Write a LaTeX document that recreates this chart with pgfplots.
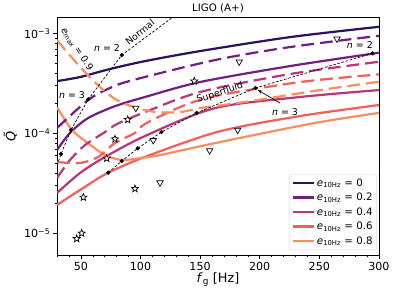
\documentclass[border=0pt]{standalone}
\usepackage{fontspec}
\setmainfont{DejaVu Sans}
\usepackage{pgfplots}
\pgfplotsset{compat=1.18}
\usetikzlibrary{arrows.meta}

\definecolor{c0}{RGB}{44,17,95}
\definecolor{c2}{RGB}{114,31,129}
\definecolor{c4}{RGB}{183,55,121}
\definecolor{c6}{RGB}{241,96,93}
\definecolor{c8}{RGB}{252,141,96}

\pgfdeclareplotmark{ostar}{%
  \pgfpathmoveto{\pgfqpointpolar{90}{\pgfplotmarksize}}%
  \pgfpathlineto{\pgfqpointpolar{126}{0.42\pgfplotmarksize}}%
  \pgfpathlineto{\pgfqpointpolar{162}{\pgfplotmarksize}}%
  \pgfpathlineto{\pgfqpointpolar{198}{0.42\pgfplotmarksize}}%
  \pgfpathlineto{\pgfqpointpolar{234}{\pgfplotmarksize}}%
  \pgfpathlineto{\pgfqpointpolar{270}{0.42\pgfplotmarksize}}%
  \pgfpathlineto{\pgfqpointpolar{306}{\pgfplotmarksize}}%
  \pgfpathlineto{\pgfqpointpolar{342}{0.42\pgfplotmarksize}}%
  \pgfpathlineto{\pgfqpointpolar{18}{\pgfplotmarksize}}%
  \pgfpathlineto{\pgfqpointpolar{54}{0.42\pgfplotmarksize}}%
  \pgfpathclose
  \pgfusepathqfillstroke
}

\begin{document}
\begin{tikzpicture}
\useasboundingbox (-66.7pt,-48pt) rectangle (394.3pt,298.3pt);
\begin{axis}[
  at={(0pt,0pt)}, anchor=south west,
  scale only axis, width=376.7pt, height=278.1pt,
  clip mode=individual,
  ymode=log, xmin=30, xmax=300, ymin=6.07e-6, ymax=1.45e-3,
  xtick={50,100,...,300}, minor xtick={30,40,...,300},
  ytick={1e-5,1e-4,1e-3},
  yticklabels={{10\textsuperscript{−5}},{10\textsuperscript{−4}},{10\textsuperscript{−3}}},
  tick align=outside, tick pos=left,
  major tick length=4.5pt, minor tick length=2.6pt,
  every tick/.style={black, line width=0.8pt},
  minor tick style={line width=0.6pt},
  axis line style={line width=0.8pt},
  ticklabel style={font=\fontsize{13}{15}\selectfont},
  /pgf/number format/assume math mode=true,
  xlabel={\textit{f}\textsubscript{g} [Hz]},
  ylabel={\textit{\~Q}},
  label style={font=\fontsize{15}{18}\selectfont},
  xlabel style={at={(axis description cs:0.5,-0.104)}, anchor=center},
  ylabel style={at={(axis description cs:-0.145,0.5)}, anchor=center},
  legend style={at={(axis description cs:0.994,0.021)}, anchor=south east,
    font=\fontsize{12}{14}\selectfont, draw=black!20, rounded corners=2pt,
    fill=white, fill opacity=0.8, text opacity=1, row sep=2.6pt, inner sep=3pt},
  legend cell align=left,
  legend image code/.code={\draw[#1, line width=2.6pt] (0pt,0pt) -- (25pt,0pt);},
]
% solid curves
\addplot[c0, no marks, smooth, tension=0.5, line width=2.6pt] coordinates {(30,3.33e-4) (49.3,3.66e-4) (74.4,4.40e-4) (103.8,5.28e-4) (149.9,6.65e-4) (225.4,9.18e-4) (300,1.164e-3)};
\addlegendentry{\textit{e}\textsubscript{10Hz} = 0}
\addplot[c2, no marks, smooth, tension=0.5, line width=2.6pt] coordinates {(30,6.81e-5) (40.9,1.01e-4) (56,1.42e-4) (78.6,1.87e-4) (103.8,2.31e-4) (149.9,3.26e-4) (225.4,4.71e-4) (300,6.40e-4)};
\addlegendentry{\textit{e}\textsubscript{10Hz} = 0.2}
\addplot[c4, no marks, smooth, tension=0.5, line width=2.6pt] coordinates {(30,2.53e-5) (49.3,4.01e-5) (70.2,5.79e-5) (103.8,9.40e-5) (162.5,1.79e-4) (233.8,2.31e-4) (300,2.71e-4)};
\addlegendentry{\textit{e}\textsubscript{10Hz} = 0.4}
\addplot[c6, no marks, smooth, tension=0.5, line width=2.6pt] coordinates {(30,1.92e-5) (49.3,2.71e-5) (73,4.04e-5) (108,6.07e-5) (166.7,1.05e-4) (233.8,1.49e-4) (300,1.92e-4)};
\addlegendentry{\textit{e}\textsubscript{10Hz} = 0.6}
\addplot[c8, no marks, smooth, tension=0.5, line width=2.6pt] coordinates {(30,1.83e-4) (42.6,1.08e-4) (56,8.0e-5) (70.2,6.07e-5) (84.5,5.41e-5) (99.6,5.66e-5) (116.4,6.07e-5) (166.7,8.18e-5) (246.3,1.27e-4) (300,1.60e-4)};
\addlegendentry{\textit{e}\textsubscript{10Hz} = 0.8}
% dashed curves
\addplot[c2, no marks, smooth, tension=0.5, line width=2.6pt, dash pattern=on 15pt off 7pt, forget plot] coordinates {(30,1.13e-4) (56,2.15e-4) (74.4,2.84e-4) (93.7,3.41e-4) (162.5,5.41e-4) (225.4,7.30e-4) (300,9.46e-4)};
\addplot[c4, no marks, smooth, tension=0.5, line width=2.6pt, dash pattern=on 15pt off 7pt, forget plot] coordinates {(30,3.57e-5) (40.9,5.41e-5) (53.5,7.64e-5) (70.2,1.03e-4) (80.3,1.24e-4) (103.8,1.63e-4) (149.9,2.59e-4) (225.4,3.92e-4) (300,5.20e-4)};
\addplot[c6, no marks, smooth, tension=0.5, line width=2.6pt, dash pattern=on 15pt off 7pt, forget plot] coordinates {(30,5.16e-5) (49.3,5.05e-5) (64.4,5.79e-5) (78.6,8.0e-5) (95.4,1.01e-4) (103.8,1.24e-4) (133.1,1.83e-4) (162.5,2.36e-4) (233.8,3.26e-4) (300,3.89e-4)};
\addplot[c8, no marks, smooth, tension=0.5, line width=2.6pt, dash pattern=on 15pt off 7pt, forget plot] coordinates {(30,8.57e-4) (39.2,6.35e-4) (51.8,4.30e-4) (66.1,2.90e-4) (80.3,2.15e-4) (97.1,1.79e-4) (113.9,1.63e-4) (133.1,1.63e-4) (149.9,1.79e-4) (162.5,1.87e-4) (197.7,2.15e-4) (250.5,2.71e-4) (300,3.28e-4)};
% Normal track
\addplot[black, no marks, line width=0.8pt, dash pattern=on 3pt off 2pt, forget plot] coordinates {(30,4.8e-5) (33.4,6.21e-5) (41.7,1.08e-4) (56.2,2.19e-4) (84.3,6.07e-4) (127.3,1.46e-3)};
\addplot[black, only marks, mark=*, mark size=2.2pt, line width=0.5pt, forget plot] coordinates {(33.4,6.21e-5) (41.7,1.08e-4) (56.2,2.19e-4) (84.3,6.07e-4)};
% Superfluid track
\addplot[black, line width=0.8pt, dash pattern=on 3pt off 2pt, no marks, forget plot] coordinates {(73,4.04e-5) (84.25,5.28e-5) (97.7,7.08e-5) (117.6,1.03e-4) (147.1,1.60e-4) (196.4,2.84e-4) (294.5,6.31e-4)};
\addplot[black, only marks, mark=*, mark size=2.2pt, line width=0.5pt, forget plot] coordinates {(73,4.04e-5) (84.25,5.28e-5) (97.7,7.08e-5) (117.6,1.03e-4) (147.1,1.60e-4) (196.4,2.84e-4) (294.5,6.31e-4)};
% stars
\addplot[black, only marks, mark=ostar, mark size=4.4pt, line width=0.8pt, fill=white, forget plot] coordinates {(145.1,3.33e-4) (89.3,1.37e-4) (78.6,8.77e-5) (71.7,5.62e-5) (52.1,2.29e-5) (95.4,2.79e-5) (50.7,1.0e-5) (46.5,8.83e-6)};
% triangles
\addplot[black, only marks, mark=triangle*, mark size=4.3pt, line width=0.8pt, mark options={rotate=180, fill=white}, forget plot] coordinates {(264.8,8.81e-4) (182.8,5.2e-4) (181.5,1.08e-4) (96.1,1.79e-4) (110.7,8.51e-5) (116.4,3.21e-5) (158.0,6.73e-5)};
% annotations
\node[font=\fontsize{11}{13}\selectfont, rotate=-56, inner sep=0pt] at (axis cs:46.8,6.97e-4) {\textit{e}\textsubscript{max} = 0.9};
\node[font=\fontsize{11}{13}\selectfont, inner sep=0pt] at (axis cs:71.9,7.13e-4) {\textit{n} = 2};
\node[font=\fontsize{11}{13}\selectfont, rotate=39, inner sep=0pt] at (axis cs:99.6,1.03e-3) {Normal};
\node[font=\fontsize{11}{13}\selectfont, inner sep=0pt] at (axis cs:42.6,2.42e-4) {\textit{n} = 3};
\node[font=\fontsize{11}{13}\selectfont, rotate=18, inner sep=0pt] at (axis cs:166.7,2.53e-4) {Superfluid};
\node[font=\fontsize{11}{13}\selectfont, inner sep=0pt] at (axis cs:284,7.64e-4) {\textit{n} = 2};
\node[font=\fontsize{11}{13}\selectfont, inner sep=0pt] at (axis cs:221.2,1.63e-4) {\textit{n} = 3};
\draw[black, line width=0.8pt, -{Stealth[length=5pt,width=4pt]}] (axis cs:217,2.01e-4) -- (axis cs:198.5,2.71e-4);
\node[font=\fontsize{12}{14}\selectfont, anchor=center] at (axis description cs:0.5,1.039) {LIGO (A+)};
\end{axis}
\end{tikzpicture}
\end{document}
